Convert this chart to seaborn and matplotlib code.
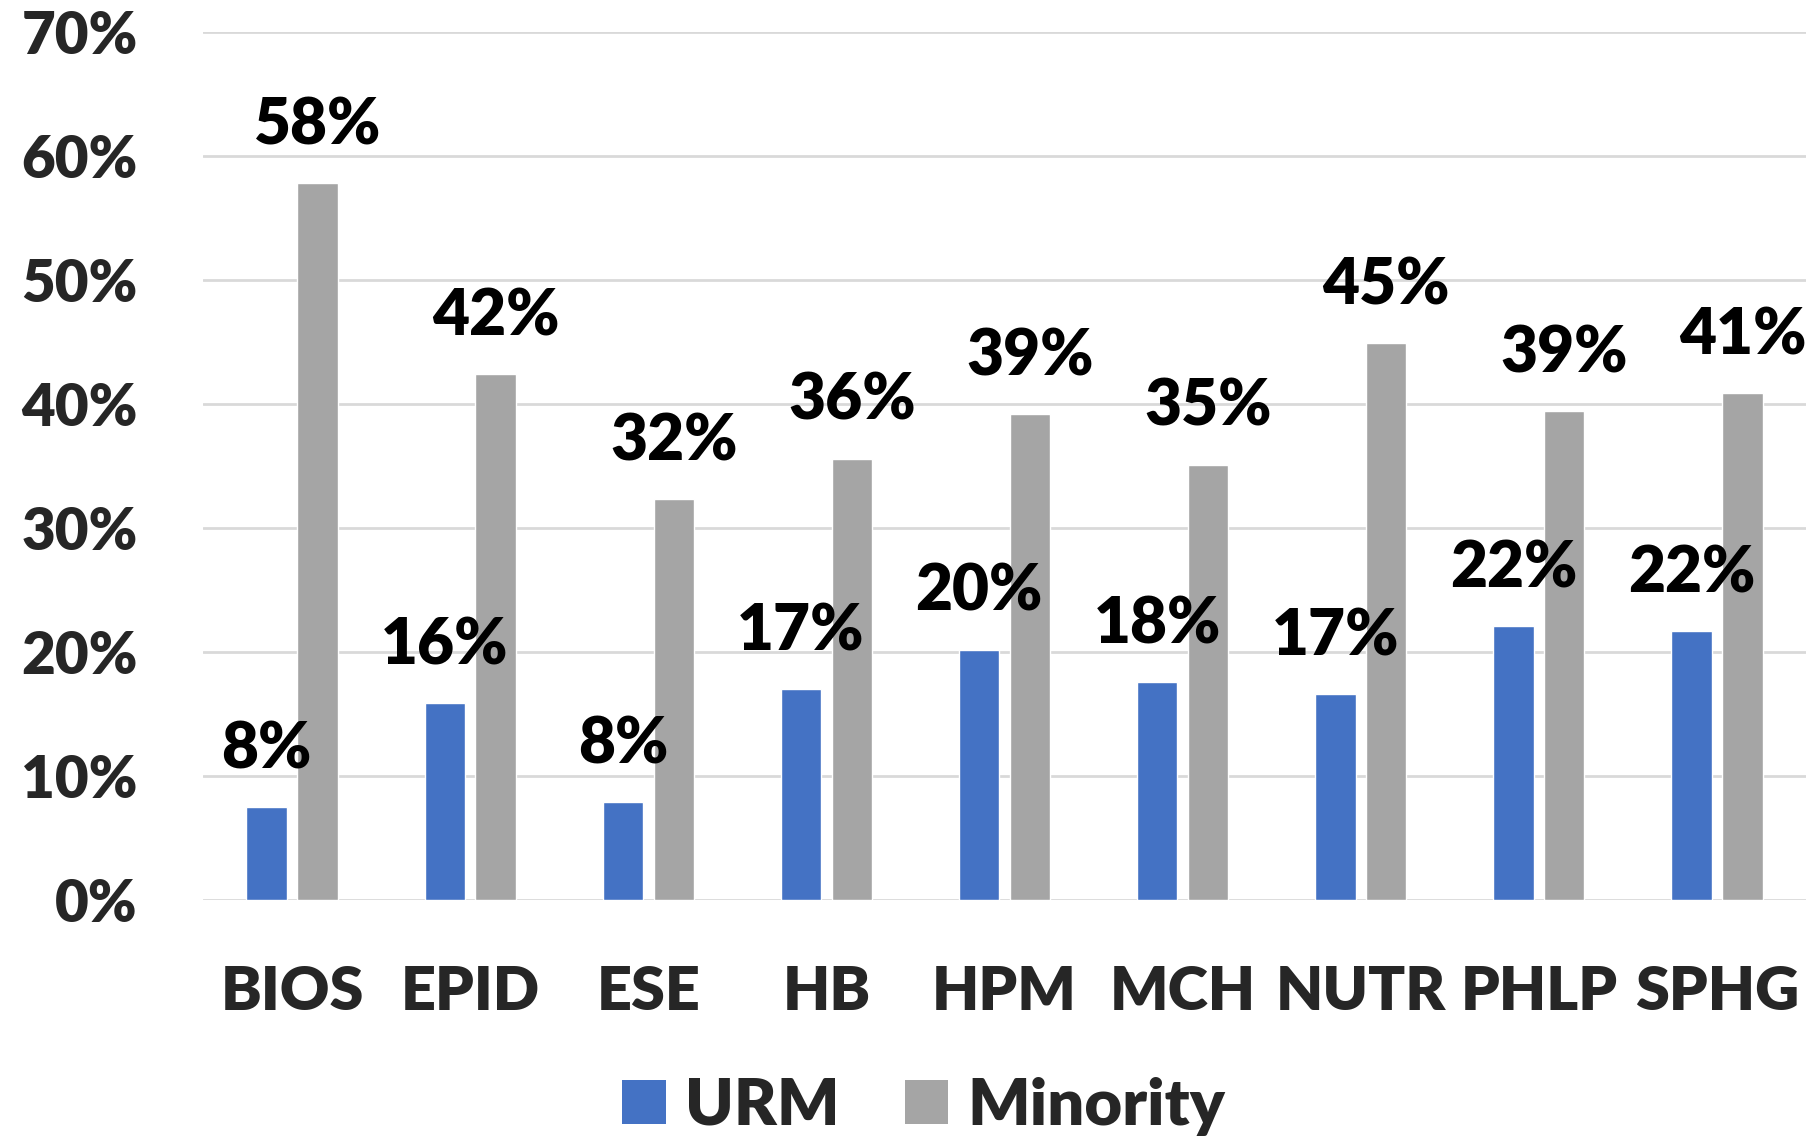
import pandas as pd
import matplotlib.pyplot as plt
from matplotlib.patches import Patch
import seaborn as sns

# data (fractions)
departments = ['BIOS', 'EPID', 'ESE', 'HB', 'HPM', 'MCH', 'NUTR', 'PHLP', 'SPHG']
urm = [0.075, 0.159, 0.079, 0.170, 0.202, 0.176, 0.166, 0.221, 0.217]
minority = [0.578, 0.424, 0.323, 0.356, 0.392, 0.351, 0.449, 0.394, 0.409]
groups = ['URM', 'Minority']
colors = ['#4472C4', '#A5A5A5']
y_ticks = [0.0, 0.1, 0.2, 0.3, 0.4, 0.5, 0.6, 0.7]

df = pd.DataFrame({
    'dept': departments * 2,
    'group': ['URM'] * len(departments) + ['Minority'] * len(departments),
    'value': urm + minority,
})

sns.set_style('white')
plt.rcParams['font.family'] = ['Lato', 'DejaVu Sans']
W = 'heavy'
plt.rcParams['font.weight'] = W

fig = plt.figure(figsize=(18.16, 11.37), dpi=100)
ax = fig.add_axes([0.1118, 0.2084, 0.9945 - 0.1118, 0.9719 - 0.2084])

sns.barplot(data=df, x='dept', y='value', hue='group', order=departments,
            hue_order=groups, palette=colors, width=0.571, gap=0.205,
            saturation=1, legend=False, ax=ax)

ax.set_ylim(0, 0.7)
ax.set_xlim(-0.5, len(departments) - 0.5)
ax.set_yticks(y_ticks)
ax.set_yticklabels([f"{t*100:.0f}%" for t in y_ticks], fontsize=42, fontweight=W)
ax.tick_params(axis='y', length=0, pad=47)
ax.tick_params(axis='x', length=0, pad=46, labelsize=44)
for lab in ax.get_xticklabels():
    lab.set_fontweight(W)
ax.set_xlabel('')
ax.set_ylabel('')
ax.yaxis.grid(True, color='#D9D9D9', linewidth=2)
ax.set_axisbelow(True)
for s in ax.spines.values():
    s.set_visible(False)

for cont in ax.containers:
    ax.bar_label(cont, labels=[f"{v*100:.0f}%" for v in cont.datavalues],
                 padding=20, fontsize=46, fontweight=W, color='black')

handles = [Patch(facecolor=c, edgecolor='none') for c in colors]
fig.legend(handles, groups, loc='center', bbox_to_anchor=(924 / 1816, 1 - 1106 / 1137),
           ncol=2, frameon=False, handlelength=0.66, handleheight=0.66,
           handletextpad=0.3, columnspacing=1.0, borderpad=0,
           prop={'weight': W, 'size': 47})

fig.savefig('out.png', dpi=100)
